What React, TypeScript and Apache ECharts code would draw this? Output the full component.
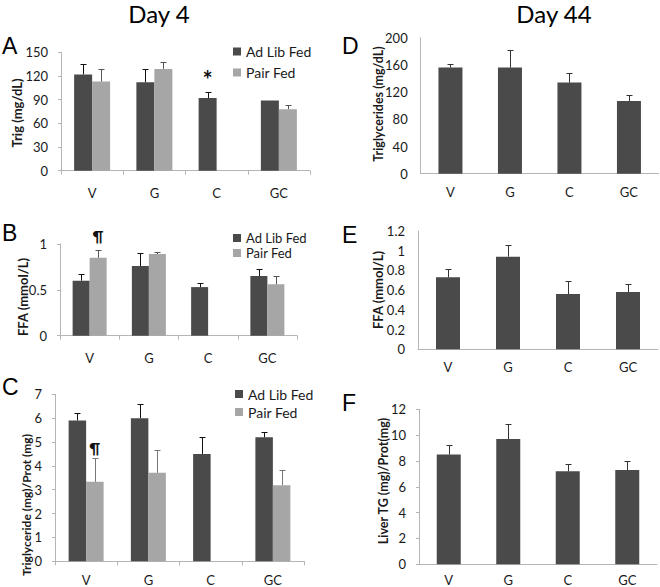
import React, { useEffect, useRef } from "react";
import * as echarts from "echarts";

const categories = ["V", "G", "C", "GC"];

// Panel A – Day 4 triglycerides (mg/dL)
const trigAdLib4 = [122, 112, 92, 89];
const trigAdLibErr4 = [135, 129, 100, null];
const trigPair4 = [113, 129, null, 78];
const trigPairErr4 = [129, 138, null, 83];
const trigAdLibMarks4 = ["", "", "*", ""];

// Panel B – Day 4 FFA (mmol/L)
const ffaAdLib4 = [0.6, 0.76, 0.53, 0.65];
const ffaAdLibErr4 = [0.67, 0.9, 0.57, 0.73];
const ffaPair4 = [0.85, 0.89, null, 0.56];
const ffaPairErr4 = [0.93, 0.91, null, 0.65];
const ffaPairMarks4 = ["¶", "", "", ""];

// Panel C – Day 4 liver triglyceride (mg)/protein (mg)
const tgAdLib4 = [5.9, 6.0, 4.5, 5.2];
const tgAdLibErr4 = [6.2, 6.58, 5.22, 5.42];
const tgPair4 = [3.33, 3.71, null, 3.19];
const tgPairErr4 = [4.35, 4.68, null, 3.83];
const tgPairMarks4 = ["¶", "", "", ""];

// Panel D – Day 44 triglycerides (mg/dL)
const trig44 = [156, 156, 134, 107];
const trigErr44 = [161, 182, 148, 116];

// Panel E – Day 44 FFA (mmol/L)
const ffa44 = [0.73, 0.94, 0.56, 0.58];
const ffaErr44 = [0.81, 1.06, 0.69, 0.66];

// Panel F – Day 44 liver TG (mg)/Prot (mg)
const liver44 = [8.5, 9.7, 7.2, 7.3];
const liverErr44 = [9.2, 10.9, 7.8, 8.0];

const FONT = 'Lato, "Open Sans", sans-serif';
const DARK = "#4a4a4a";
const LIGHT = "#a6a6a6";
const AXIS = "#b5b5b5";
const TXT = "#1a1a1a";

type GridSpec = { left: number; top: number; width: number; height: number };

const grids: GridSpec[] = [
  { left: 61, top: 52.3, width: 249, height: 118.4 }, // A
  { left: 60, top: 244, width: 237, height: 91.7 }, // B
  { left: 55, top: 394.3, width: 249, height: 167 }, // C
  { left: 420.7, top: 37.7, width: 238, height: 136 }, // D
  { left: 418, top: 231, width: 240, height: 118.3 }, // E
  { left: 419, top: 409.3, width: 238, height: 155 }, // F
];

const yScales = [
  { max: 150, interval: 30, ticks: true },
  { max: 1, interval: 0.5, ticks: true },
  { max: 7, interval: 1, ticks: true },
  { max: 200, interval: 40, ticks: false },
  { max: 1.2, interval: 0.2, ticks: false },
  { max: 12, interval: 2, ticks: true },
];

const xLabelMargins = [16, 16, 12, 12, 11, 9];
const xTicks = [true, true, true, false, false, false];

function errSeries(
  idx: number,
  values: (number | null)[],
  tops: (number | null)[],
  offset: number,
  color: string
) {
  const data: number[][] = [];
  values.forEach((v, k) => {
    const t = tops[k];
    if (v != null && t != null && t > v) data.push([k, v, t]);
  });
  return {
    type: "custom",
    name: "err" + idx + "_" + offset,
    xAxisIndex: idx,
    yAxisIndex: idx,
    z: 5,
    silent: true,
    encode: { x: 0, y: 1 },
    data,
    renderItem: (_p: any, api: any) => {
      const base = api.coord([api.value(0), api.value(1)]);
      const top = api.coord([api.value(0), api.value(2)]);
      const x = Math.round(base[0] + offset) + 0.5;
      const yt = Math.round(top[1]) + 0.5;
      return {
        type: "group",
        children: [
          {
            type: "line",
            shape: { x1: x, y1: base[1], x2: x, y2: yt },
            style: { stroke: color, lineWidth: 1 },
          },
          {
            type: "line",
            shape: { x1: x - 3, y1: yt, x2: x + 3, y2: yt },
            style: { stroke: color, lineWidth: 1 },
          },
        ],
      };
    },
  };
}

function barSeries(
  name: string,
  idx: number,
  values: (number | null)[],
  color: string,
  width: number,
  marks?: string[],
  markDist?: number,
  markSize?: number
) {
  return {
    type: "bar",
    name,
    xAxisIndex: idx,
    yAxisIndex: idx,
    barWidth: width,
    barGap: "0%",
    itemStyle: { color },
    data: values.map((v, k) => {
      const m = marks ? marks[k] : "";
      if (m && v != null) {
        return {
          value: v,
          label: {
            show: true,
            position: "top",
            formatter: m,
            distance: markDist ?? 5,
            fontSize: markSize ?? 16,
            fontWeight: "bold",
            color: "#111",
            fontFamily: FONT,
          },
        };
      }
      return v;
    }),
  };
}

function vText(text: string, x: number, y: number, size: number) {
  return {
    type: "text",
    x,
    y,
    rotation: Math.PI / 2,
    style: {
      text,
      fontSize: size,
      fontWeight: "bold",
      fontFamily: FONT,
      fill: TXT,
      align: "center",
      verticalAlign: "middle",
    },
  };
}

function letter(text: string, x: number, y: number) {
  return {
    type: "text",
    x,
    y,
    style: {
      text,
      fontSize: 23,
      fontFamily: '"Liberation Sans", Arial, sans-serif',
      fill: "#000",
      align: "left",
      verticalAlign: "middle",
    },
  };
}

function legendAt(left: number, top: number, gap: number, size: number) {
  return {
    data: ["Ad Lib Fed", "Pair Fed"],
    orient: "vertical",
    left,
    top,
    padding: 0,
    itemGap: gap,
    itemWidth: 8,
    itemHeight: 8,
    icon: "rect",
    selectedMode: false,
    textStyle: { fontSize: size, fontFamily: FONT, color: TXT },
  };
}

export default function App() {
  const ref = useRef<HTMLDivElement>(null);

  useEffect(() => {
    if (!ref.current) return;
    const chart = echarts.init(ref.current, undefined, { renderer: "svg" });

    const xAxis = grids.map((_, i) => ({
      type: "category",
      gridIndex: i,
      data: categories,
      axisLine: { show: true, lineStyle: { color: AXIS, width: 1 } },
      axisTick: { show: xTicks[i], length: 4, lineStyle: { color: AXIS } },
      axisLabel: {
        margin: xLabelMargins[i],
        fontSize: 13,
        color: TXT,
        fontFamily: FONT,
      },
    }));

    const yAxis = grids.map((_, i) => ({
      type: "value",
      gridIndex: i,
      min: 0,
      max: yScales[i].max,
      interval: yScales[i].interval,
      axisLine: { show: true, lineStyle: { color: AXIS, width: 1 } },
      axisTick: { show: yScales[i].ticks, length: 3, lineStyle: { color: AXIS } },
      splitLine: { show: false },
      axisLabel: { margin: 13, fontSize: 13, color: TXT, fontFamily: FONT },
    }));

    const series: any[] = [
      // A
      barSeries("Ad Lib Fed", 0, trigAdLib4, DARK, 18, trigAdLibMarks4, 7, 24),
      barSeries("Pair Fed", 0, trigPair4, LIGHT, 18),
      errSeries(0, trigAdLib4, trigAdLibErr4, -9, "#111"),
      errSeries(0, trigPair4, trigPairErr4, 9, "#555"),
      // B
      barSeries("Ad Lib Fed", 1, ffaAdLib4, DARK, 17),
      barSeries("Pair Fed", 1, ffaPair4, LIGHT, 17, ffaPairMarks4, 14, 15),
      errSeries(1, ffaAdLib4, ffaAdLibErr4, -8.5, "#111"),
      errSeries(1, ffaPair4, ffaPairErr4, 8.5, "#555"),
      // C
      barSeries("Ad Lib Fed", 2, tgAdLib4, DARK, 17.5),
      barSeries("Pair Fed", 2, tgPair4, LIGHT, 17.5, tgPairMarks4, 26, 15),
      errSeries(2, tgAdLib4, tgAdLibErr4, -8.75, "#111"),
      errSeries(2, tgPair4, tgPairErr4, 8.75, "#777"),
      // D
      barSeries("Day 44 TG", 3, trig44, DARK, 24),
      errSeries(3, trig44, trigErr44, 0, "#333"),
      // E
      barSeries("Day 44 FFA", 4, ffa44, DARK, 24),
      errSeries(4, ffa44, ffaErr44, 0, "#333"),
      // F
      barSeries("Day 44 Liver", 5, liver44, DARK, 24),
      errSeries(5, liver44, liverErr44, 0, "#333"),
    ];

    chart.setOption({
      animation: false,
      backgroundColor: "#ffffff",
      grid: grids.map((g) => ({ ...g, containLabel: false })),
      xAxis,
      yAxis,
      legend: [
        legendAt(233, 44.5, 7, 14),
        legendAt(233, 231.5, 2, 13),
        legendAt(235, 387, 4, 14),
      ],
      series,
      graphic: [
        {
          type: "text",
          x: 159,
          y: 13,
          style: { text: "Day 4", fontSize: 24, fontFamily: FONT, fill: "#000", align: "center", verticalAlign: "middle" },
        },
        {
          type: "text",
          x: 554,
          y: 13,
          style: { text: "Day 44", fontSize: 24, fontFamily: FONT, fill: "#000", align: "center", verticalAlign: "middle" },
        },
        letter("A", 2, 46),
        letter("B", 2, 233),
        letter("C", 2, 387),
        letter("D", 342, 45.5),
        letter("E", 342, 234.5),
        letter("F", 342, 403),
        vText("Trig (mg/dL)", 17, 113, 13),
        vText("FFA (mmol/L)", 22.5, 297, 13),
        vText("Triglyceride (mg)/Prot (mg)", 26, 505, 12),
        vText("Triglycerides (mg/dL)", 378, 104, 12.5),
        vText("FFA (mmol/L)", 378, 290, 13),
        vText("Liver TG (mg)/Prot(mg)", 383, 481, 12.5),
      ],
    });

    return () => chart.dispose();
  }, []);

  return (
    <div
      ref={ref}
      style={{ position: "fixed", left: 0, top: 0, width: 660, height: 587, background: "#fff" }}
    />
  );
}
